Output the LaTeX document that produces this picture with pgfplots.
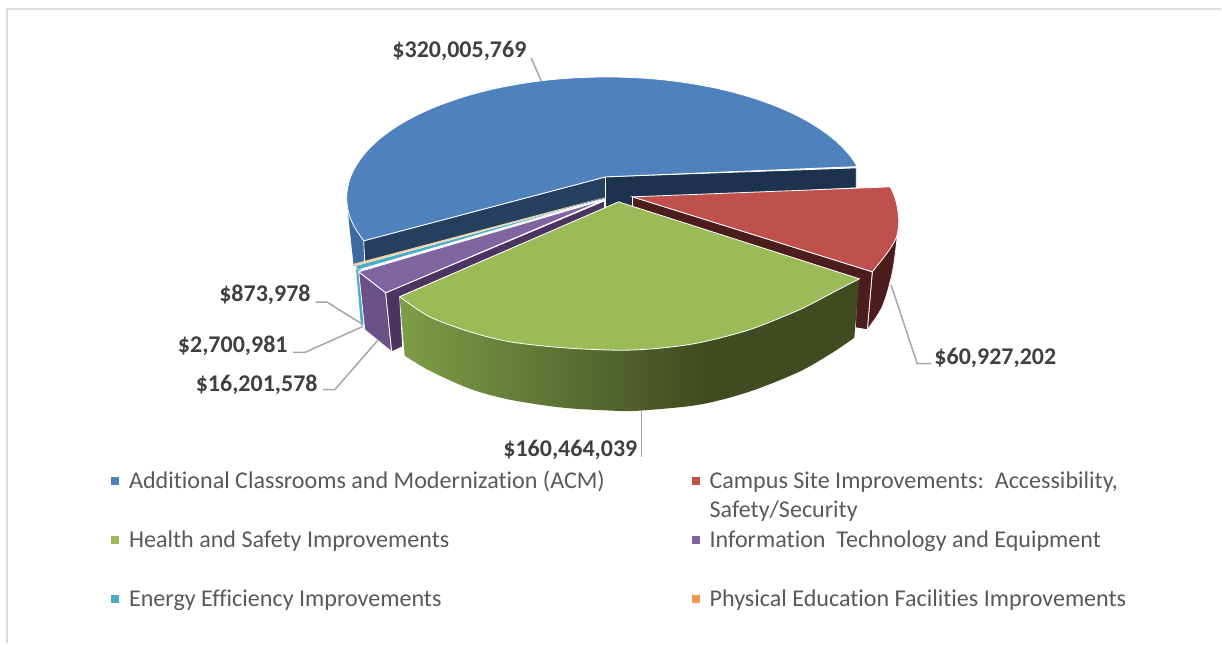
\documentclass[border=0pt]{standalone}
\usepackage{fontspec}
\setmainfont{Carlito}[Ligatures=NoCommon]
\usepackage{pgfplots}
\pgfplotsset{compat=1.18}
\definecolor{acm}{HTML}{4F81BD}
\definecolor{acmside}{HTML}{3D6A9F}
\definecolor{acmwallL}{HTML}{253F5F}
\definecolor{acmwallR}{HTML}{1C324D}
\definecolor{site}{HTML}{C0504D}
\definecolor{siteside}{HTML}{4D1D1D}
\definecolor{health}{HTML}{9BBB59}
\definecolor{healthA}{HTML}{7E9D48}
\definecolor{healthB}{HTML}{414B21}
\definecolor{info}{HTML}{8064A2}
\definecolor{infoside}{HTML}{6C5088}
\definecolor{infowall}{HTML}{4B3560}
\definecolor{energy}{HTML}{4BACC6}
\definecolor{pe}{HTML}{F79646}
\definecolor{peach}{HTML}{F6CFA8}
\definecolor{leader}{HTML}{A6A6A6}
\definecolor{labelc}{HTML}{404040}
\definecolor{legc}{HTML}{595959}
\definecolor{framec}{HTML}{DDDDDD}
\pgfdeclarehorizontalshading{greenside}{100bp}{color(0bp)=(healthA); color(25bp)=(healthA); color(58bp)=(healthB); color(100bp)=(healthB)}
\begin{document}
\begin{tikzpicture}
\begin{axis}[
 scale only axis,
 width=1222pt,
 height=644pt,
 xmin=0, xmax=1222,
 ymin=0, ymax=644,
 y dir=reverse,
 hide axis,
 clip=false,
]
% keeps the page at full size
\addplot[draw=none] coordinates {(0,0) (1222,644)};
% chart frame
\addplot[framec, line width=2pt] coordinates {(7,644) (7,9) (1222,9)};

% blue slice: sides first
\addplot[fill=acmside, draw=none] coordinates {(347,198) (364,241) (365,263) (354,266) (350,230)} -- cycle;
\addplot[fill=acmwallR, draw=white, line width=0.8pt] coordinates {(606,177) (857,168) (857,188) (640,200) (640,206) (606,209)} -- cycle;
\addplot[fill=acmwallL, draw=white, line width=0.8pt] coordinates {(364,241) (606,177) (606,199) (365,263)} -- cycle;
\addplot[smooth, fill=acm, draw=white, line width=0.8pt] coordinates {
 (858.1,166.7) (851.3,156.6) (842.6,146.9) (832.2,137.5) (820,128.6) (806.2,120.2) (790.8,112.4)
 (774.1,105.3) (756.1,98.9) (737,93.2) (716.9,88.3) (695.9,84.3) (674.3,81.1) (652.1,78.8)
 (629.7,77.5) (607,77) (584.3,77.5) (561.9,78.8) (539.7,81.1) (518.1,84.3) (497.1,88.3)
 (477,93.2) (457.9,98.9) (439.9,105.3) (423.2,112.4) (407.8,120.2) (394,128.6) (381.8,137.5)
 (371.4,146.9) (362.7,156.6) (355.9,166.7) (350.9,177) (348,187.5) (347,198) (348,208.5)
 (350.9,219) (355.9,229.3) (364,241)} -- (axis cs:606,177) -- cycle;

% red slice
\addplot[smooth, fill=siteside, draw=white, line width=0.8pt] coordinates {(898,237) (893,273) (883,307) (868,330)} -- (axis cs:873,272) -- cycle;
\addplot[fill=siteside, draw=white, line width=0.8pt] coordinates {(633,197) (873,272) (868,330) (856,328) (858,282) (633,208)} -- cycle;
\addplot[smooth, fill=site, draw=white, line width=0.8pt] coordinates {(891,187) (895,196) (898,207) (899.5,222) (897,238) (888,253) (873,272)} -- (axis cs:633,197) -- cycle;

% peach and cyan slivers
\addplot[fill=peach, draw=none] coordinates {(606,197) (354,264) (356,268)} -- cycle;
\addplot[fill=energy, draw=white, line width=0.4pt] coordinates {(356,268) (361,268) (364,326) (361,326)} -- cycle;
\addplot[fill=energy, draw=white, line width=0.4pt] coordinates {(606,198) (356,266) (358,270)} -- cycle;

% purple slice
\addplot[fill=infoside, draw=white, line width=0.8pt] coordinates {(359,272) (386,293) (392,352) (365,330)} -- cycle;
\addplot[fill=infowall, draw=white, line width=0.8pt] coordinates {(386,293) (605,201) (605,209) (400,297) (403,347) (392,352)} -- cycle;
\addplot[fill=info, draw=white, line width=0.8pt] coordinates {(605,200) (359,272) (386,293)} -- cycle;

% green slice
\addplot[smooth, shading=greenside, draw=none] coordinates {
 (405,356) (430,371) (470,389) (510,400) (563,408) (613,411) (640,411) (700,405) (750,392) (800,372) (833,353) (855,338)}
 -- (axis cs:860,279) -- (axis cs:620,300) -- (axis cs:400,297) -- cycle;
\addplot[smooth, fill=health, draw=white, line width=0.8pt] coordinates {
 (860,279) (833,293) (800,310) (750,330) (700,343) (660,348.5) (620,350.5)
 (563,348) (510,342) (470,332) (430,317) (400,297)} -- (axis cs:619,202) -- cycle;

% leader lines
\addplot[leader, line width=1.5pt] coordinates {(531.7,58.3) (541.7,81)};
\addplot[leader, line width=1.5pt] coordinates {(891.7,285) (918,364) (932,364)};
\addplot[leader, line width=1.5pt] coordinates {(642,411) (642,457)};
\addplot[leader, line width=1.5pt] coordinates {(316,302.3) (327.3,302.3) (363.3,325)};
\addplot[leader, line width=1.5pt] coordinates {(293.3,352.7) (305,352.7) (363.3,326.7)};
\addplot[leader, line width=1.5pt] coordinates {(323.3,390) (335,390) (378,340.7)};

% legend keys
\addplot[only marks, mark=square*, mark size=3.6pt, mark options={draw=acm, fill=acm}] coordinates {(115,481)};
\addplot[only marks, mark=square*, mark size=3.6pt, mark options={draw=site, fill=site}] coordinates {(696,481)};
\addplot[only marks, mark=square*, mark size=3.6pt, mark options={draw=health, fill=health}] coordinates {(115,540)};
\addplot[only marks, mark=square*, mark size=3.6pt, mark options={draw=info, fill=info}] coordinates {(696,540)};
\addplot[only marks, mark=square*, mark size=3.6pt, mark options={draw=energy, fill=energy}] coordinates {(115,599)};
\addplot[only marks, mark=square*, mark size=3.6pt, mark options={draw=pe, fill=pe}] coordinates {(696,599)};

% data labels
\tikzset{dl/.style={font=\fontsize{24}{27}\selectfont\bfseries, text=labelc, inner sep=0pt},
 lg/.style={font=\fontsize{24.1}{27}\selectfont, text=legc, inner sep=0pt, anchor=base west}}
\node[dl, anchor=base east] at (axis cs:527,58) {\$320,005,769};
\node[dl, anchor=base west] at (axis cs:935,365) {\$60,927,202};
\node[dl, anchor=base east] at (axis cs:638,457) {\$160,464,039};
\node[dl, anchor=base east] at (axis cs:311,302) {\$873,978};
\node[dl, anchor=base east] at (axis cs:288,353) {\$2,700,981};
\node[dl, anchor=base east] at (axis cs:318,392) {\$16,201,578};

% legend text
\node[lg] at (axis cs:129,489) {Additional Classrooms and Modernization (ACM)};
\node[lg] at (axis cs:710,489) {Campus Site Improvements:\ \ Accessibility,};
\node[lg] at (axis cs:710,518) {Safety/Security};
\node[lg] at (axis cs:129,548) {Health and Safety Improvements};
\node[lg] at (axis cs:710,548) {Information\ \ Technology and Equipment};
\node[lg] at (axis cs:129,607) {Energy Efficiency Improvements};
\node[lg] at (axis cs:710,607) {Physical Education Facilities Improvements};
\end{axis}
\end{tikzpicture}
\end{document}
